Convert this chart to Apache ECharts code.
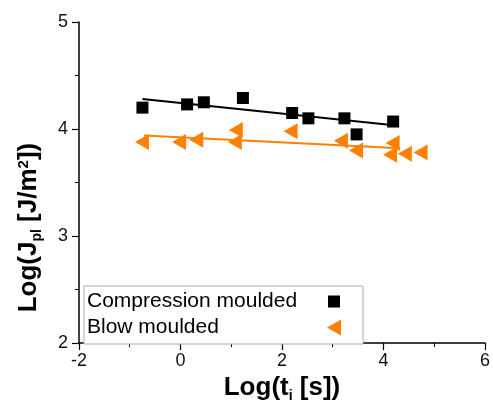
<!DOCTYPE html>
<html>
<head>
<meta charset="utf-8">
<script src="https://cdn.jsdelivr.net/npm/echarts@6/dist/echarts.min.js"></script>
<style>
html,body{margin:0;padding:0;background:#fff;}
#chart{width:493px;height:408px;}
</style>
</head>
<body>
<div id="chart"></div>
<script>
var seriesNames = ['Compression moulded', 'Blow moulded'];
var compX = [-0.75, 0.13, 0.46, 1.23, 2.20, 2.52, 3.23, 3.47, 4.19];
var compY = [4.20, 4.23, 4.25, 4.29, 4.15, 4.10, 4.10, 3.95, 4.07];
var blowX = [-0.76, -0.03, 0.31, 1.09, 1.07, 2.17, 3.16, 3.46, 4.18, 4.13, 4.42, 4.73];
var blowY = [3.88, 3.88, 3.90, 3.99, 3.88, 3.98, 3.89, 3.80, 3.87, 3.76, 3.77, 3.78];
var compFitX = [-0.75, 4.30];
var compFitY = [4.28, 4.03];
var blowFitX = [-0.72, 4.33];
var blowFitY = [3.94, 3.82];
var xTicks = [-2, 0, 2, 4, 6];
var yTicks = [2, 3, 4, 5];

function pairs(xs, ys) { return xs.map(function (x, i) { return [x, ys[i]]; }); }

var ORANGE = '#FF8000';
var triPath = 'path://M0,8 L14,0 L14,16 Z';
var sqIcon = 'path://M0,0 M14,16 M1,2 L13,2 L13,14 L1,14 Z';
var font = 'Liberation Sans, Arial, sans-serif';

var titleRich = {
  a: {fontSize: 26, fontWeight: 'bold', fontFamily: font, color: '#000', lineHeight: 30, verticalAlign: 'top'},
  s: {fontSize: 14, fontWeight: 'bold', fontFamily: font, color: '#000', lineHeight: 16, verticalAlign: 'top', padding: [14, 0, 0, 0]},
  p: {fontSize: 15, fontWeight: 'bold', fontFamily: font, color: '#000', lineHeight: 16, verticalAlign: 'top', padding: [0, 0, 0, 0]}
};

var chart = echarts.init(document.getElementById('chart'), null, {renderer: 'canvas'});
chart.setOption({
  animation: false,
  backgroundColor: '#fff',
  grid: {left: 79, right: 8, top: 22, bottom: 61, containLabel: false},
  xAxis: {
    type: 'value', min: xTicks[0], max: xTicks[xTicks.length - 1], interval: 2,
    axisLine: {onZero: false, lineStyle: {color: '#000', width: 1.5}},
    axisTick: {show: true, inside: false, length: 7, lineStyle: {color: '#000', width: 1.2}},
    minorTick: {show: true, splitNumber: 2, length: 4, lineStyle: {color: '#000', width: 1}},
    splitLine: {show: false},
    axisLabel: {color: '#111', fontSize: 18, fontFamily: font, margin: 9},
    name: '{a|Log(t}{s|i}{a| [s])}',
    nameLocation: 'middle', nameGap: 13,
    nameTextStyle: {rich: titleRich}
  },
  yAxis: {
    type: 'value', min: yTicks[0], max: yTicks[yTicks.length - 1], interval: 1,
    axisLine: {onZero: false, lineStyle: {color: '#000', width: 1.5}},
    axisTick: {show: true, inside: false, length: 7, lineStyle: {color: '#000', width: 1.2}},
    minorTick: {show: true, splitNumber: 2, length: 4, lineStyle: {color: '#000', width: 1}},
    splitLine: {show: false},
    axisLabel: {color: '#111', fontSize: 18, fontFamily: font, margin: 11},
    name: '{a|Log(J}{s|pl}{a| [J/m}{p|2}{a|])}',
    nameLocation: 'middle', nameGap: 33,
    nameTextStyle: {rich: titleRich, padding: [0, 90, 0, 0]}
  },
  legend: {
    data: [
      {name: seriesNames[0], icon: sqIcon},
      {name: seriesNames[1], icon: triPath}
    ],
    orient: 'vertical',
    left: 84, top: 286,
    align: 'right',
    itemGap: 5,
    itemWidth: 14, itemHeight: 16,
    padding: [5, 22, 6, 3],
    borderColor: '#aaa', borderWidth: 1,
    backgroundColor: '#fff',
    formatter: '{a|{name}}',
    textStyle: {
      fontSize: 21, fontFamily: font, color: '#000',
      rich: {a: {fontSize: 21, fontFamily: font, color: '#000', width: 235, align: 'left'}}
    }
  },
  series: [
    {
      name: seriesNames[0], type: 'scatter', data: pairs(compX, compY),
      symbol: 'rect', symbolSize: 12, itemStyle: {color: '#000', opacity: 1}, z: 3
    },
    {
      name: seriesNames[1], type: 'scatter', data: pairs(blowX, blowY),
      symbol: triPath, symbolSize: [14, 16], itemStyle: {color: ORANGE, opacity: 1}, z: 3
    },
    {
      name: 'compFit', type: 'line', data: pairs(compFitX, compFitY),
      showSymbol: false, lineStyle: {color: '#000', width: 2}, z: 2
    },
    {
      name: 'blowFit', type: 'line', data: pairs(blowFitX, blowFitY),
      showSymbol: false, lineStyle: {color: ORANGE, width: 2}, z: 2
    }
  ]
});
</script>
</body>
</html>
